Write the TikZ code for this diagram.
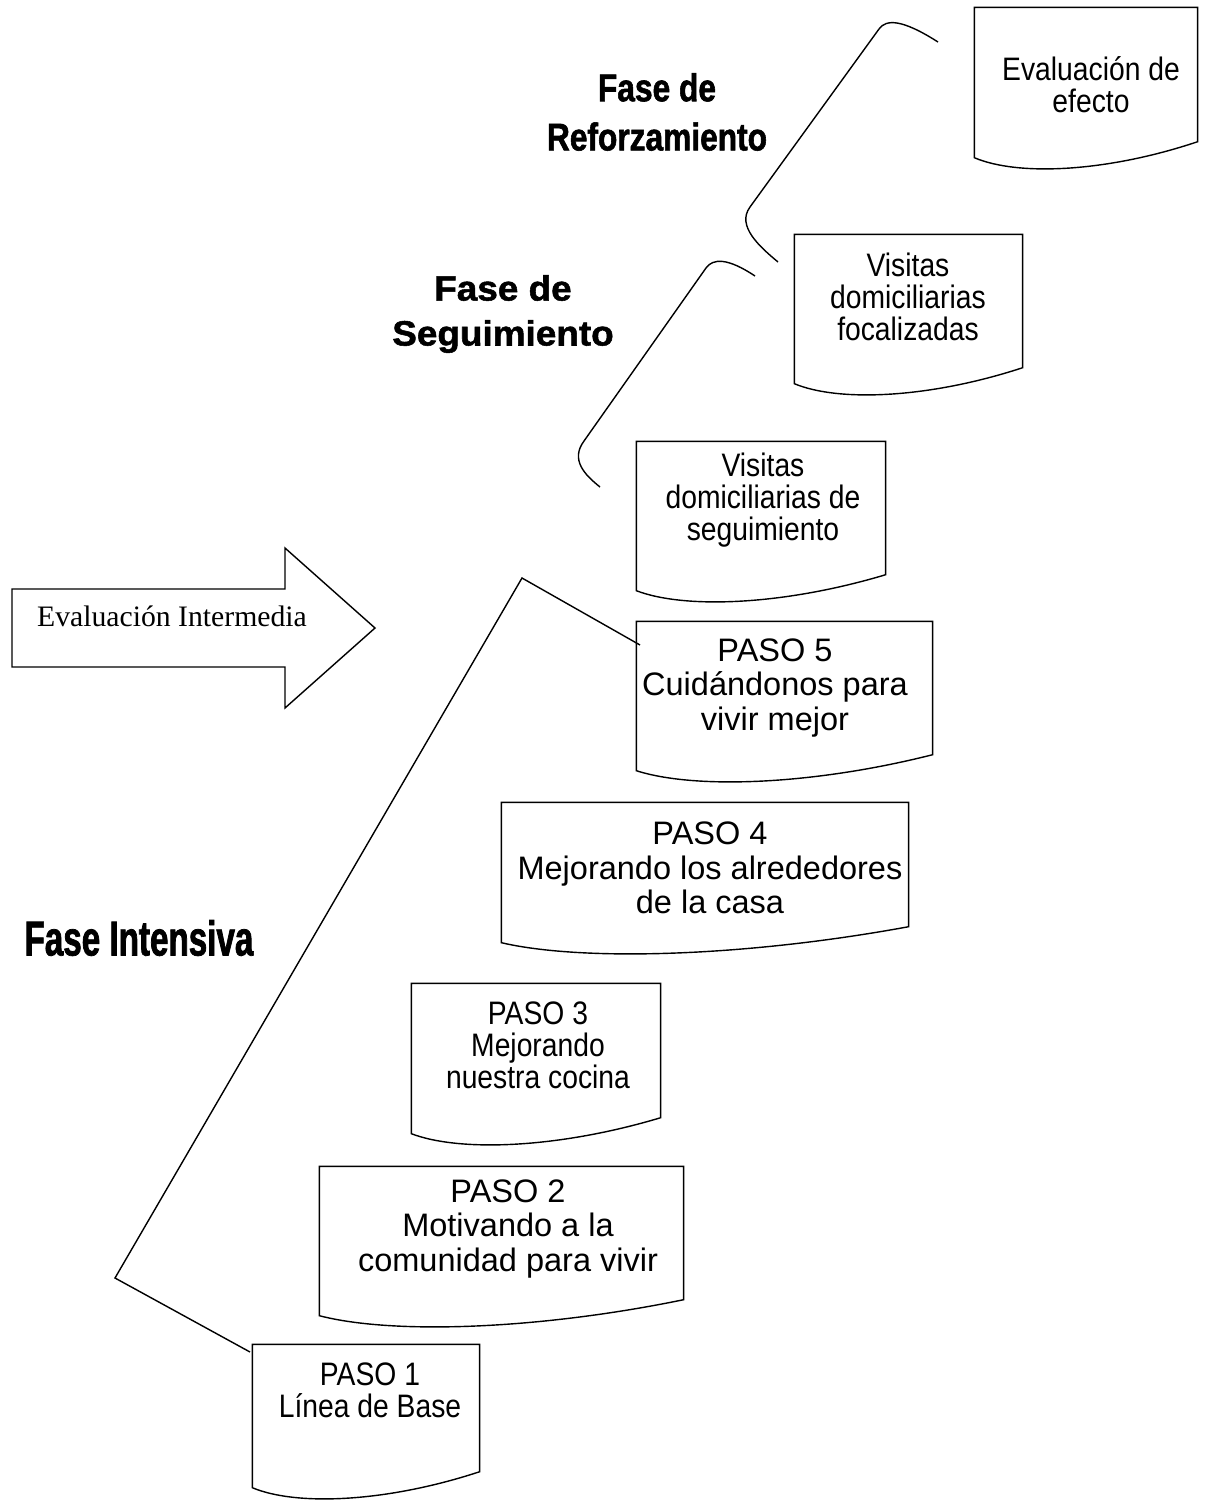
\documentclass[tikz,border=0pt]{standalone}
\usepackage{fontspec}
\setmainfont{Liberation Sans}
\newfontfamily\narrowfont[FakeStretch=0.87]{Liberation Sans}
\newfontfamily\timesfont{Liberation Serif}
\newfontfamily\faseafont[FakeStretch=0.82,FakeBold=1.5]{Liberation Sans}
\newfontfamily\fasebfont[FakeStretch=1.05,FakeBold=1.5]{Liberation Sans}
\newfontfamily\fasecfont[FakeStretch=0.68,FakeBold=1.5]{Liberation Sans}
\usetikzlibrary{calc}

\tikzset{
  docbox/.style={rectangle, inner sep=0pt},
  doctext/.style={align=center, font=\fontsize{18.5}{19.8}\selectfont},
  doctextn/.style={align=center, font=\narrowfont\fontsize{18.5}{18.2}\selectfont},
  fase/.style={align=center},
}

\begin{document}
\begin{tikzpicture}[x=0.02cm, y=-0.02cm, line width=0.8pt]
\useasboundingbox (0,0) rectangle (1210,1502);

% cajas (documento)
\node[docbox, minimum width=4.44cm, minimum height=2.98cm] (efecto) at (1086,82.5) {};
\node[docbox, minimum width=4.54cm, minimum height=2.96cm] (focal) at (908.5,309) {};
\node[docbox, minimum width=4.96cm, minimum height=2.96cm] (seguim) at (761,516) {};
\node[docbox, minimum width=5.90cm, minimum height=2.96cm] (paso5) at (784.5,696) {};
\node[docbox, minimum width=8.12cm, minimum height=2.78cm] (paso4) at (705,872.5) {};
\node[docbox, minimum width=4.96cm, minimum height=2.98cm] (paso3) at (536,1058.5) {};
\node[docbox, minimum width=7.26cm, minimum height=2.96cm] (paso2) at (501.5,1241) {};
\node[docbox, minimum width=4.52cm, minimum height=2.84cm] (paso1) at (366,1416) {};

\foreach \n in {efecto,focal,seguim,paso5,paso4,paso3,paso2,paso1}
  \draw (\n.south west) -- (\n.north west) -- (\n.north east) -- ([yshift=0.32cm]\n.south east)
    .. controls ($(\n.south west)!0.6!(\n.south east)+(0,14)$) and ($(\n.south west)!0.2!(\n.south east)+(0,19)$) .. (\n.south west) -- cycle;

\node[doctextn] (efecto-t) at (1091,85) {Evaluación de\\efecto};
\node[doctextn] (focal-t) at (908,297) {Visitas\\domiciliarias\\focalizadas};
\node[doctextn] (seguim-t) at (763,500) {Visitas\\domiciliarias de\\seguimiento};
\node[doctext] (paso5-t) at (775,688) {PASO 5\\Cuidándonos para\\vivir mejor};
\node[doctext] (paso4-t) at (710,868) {PASO 4\\Mejorando los alrededores\\de la casa};
\node[doctextn] (paso3-t) at (538,1045) {PASO 3\\Mejorando\\nuestra cocina};
\node[doctext] (paso2-t) at (508,1229) {PASO 2\\Motivando a la\\comunidad para vivir};
\node[doctextn] (paso1-t) at (370,1390) {PASO 1\\Línea de Base};

% flecha
\draw (12,589) -- (285,589) -- (285,548) -- (375,628) -- (285,708) -- (285,667) -- (12,667) -- cycle;
\node[font={\timesfont\fontsize{16.9}{18}\selectfont}] (evalint) at (172,616) {Evaluación Intermedia};

% fases
\node[fase, font={\faseafont\bfseries\fontsize{22}{28}\selectfont}] (fase-ref) at (657,112) {Fase de\\Reforzamiento};
\node[fase, font={\fasebfont\bfseries\fontsize{20}{25.6}\selectfont}] (fase-seg) at (503,314) {Fase de\\Seguimiento};
\node[fase, font={\fasecfont\bfseries\fontsize{27.8}{30}\selectfont}] (fase-int) at (139,938) {Fase Intensiva};

% llaves
\draw (250,1352) -- (115,1278) -- (522,578) -- (640,645);
\draw (600,487) .. controls (585,475) and (570,460) .. (584,441) -- (706,268)
  .. controls (713,258) and (728,258) .. (755,276);
\draw (778,262) .. controls (760,247) and (736,226) .. (750,207) -- (879,29)
  .. controls (886,19) and (902,19) .. (938,42);
\end{tikzpicture}
\end{document}
